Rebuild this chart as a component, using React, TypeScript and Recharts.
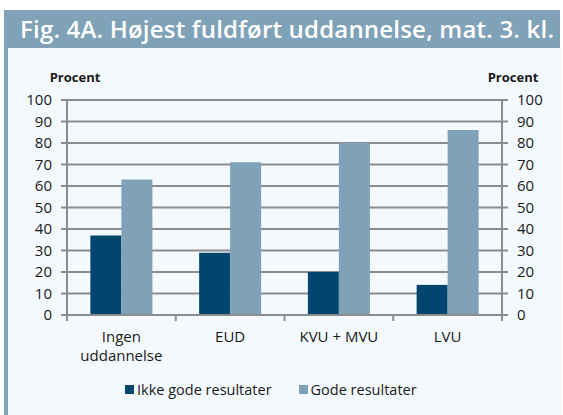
import { Bar, BarChart, CartesianGrid, XAxis, YAxis } from "recharts"

const categories = ["Ingen\nuddannelse", "EUD", "KVU + MVU", "LVU"]
const ikkeGode = [37, 29, 20, 14]
const gode = [63, 71, 80, 86]
const yTicks = [0, 10, 20, 30, 40, 50, 60, 70, 80, 90, 100]
const seriesNames = ["Ikke gode resultater", "Gode resultater"]

const data = categories.map((name, i) => ({ name, ikke: ikkeGode[i], gode: gode[i] }))

const DARK = "#00466e"
const LIGHT = "#7fa2b8"
const GRID = "#8c8c8c"
const FONT = "'Open Sans', sans-serif"

// category label plus a tick mark at the band edges (like the original)
function CategoryTick(props: any) {
  const { x, y, payload, index } = props
  const half = payload.offset || 0
  const lines = String(payload.value).split("\n")
  return (
    <g>
      <line x1={x - half} x2={x - half} y1={y} y2={y + 6} stroke={GRID} strokeWidth={2} />
      {index === categories.length - 1 && (
        <line x1={x + half} x2={x + half} y1={y} y2={y + 6} stroke={GRID} strokeWidth={2} />
      )}
      <text x={x} y={y} textAnchor="middle" fill="#1a1a1a" fontSize={15} fontFamily={FONT}>
        {lines.map((l, i) => (
          <tspan key={i} x={x} dy={i === 0 ? 27 : 19}>
            {l}
          </tspan>
        ))}
      </text>
    </g>
  )
}

export default function App() {
  return (
    <div style={{ position: "fixed", left: 0, top: 0, width: 563, height: 415, background: "#fff", fontFamily: FONT }}>
      <div style={{ position: "absolute", left: 4, top: 48, width: 558, height: 367, background: "#f4f9fe" }} />
      <div style={{ position: "absolute", left: 4, top: 48, width: 4, height: 367, background: LIGHT }} />
      <div
        style={{
          position: "absolute",
          left: 4,
          top: 10,
          width: 556,
          height: 38,
          background: LIGHT,
          color: "#fff",
          fontSize: 24,
          fontWeight: 600,
          letterSpacing: 0.2,
          lineHeight: "38px",
          paddingLeft: 16,
          boxSizing: "border-box",
          whiteSpace: "nowrap",
        }}
      >
        Fig. 4A. Højest fuldført uddannelse, mat. 3. kl.
      </div>
      <div style={{ position: "absolute", left: 75, top: 68, transform: "translateX(-50%)", fontSize: 13, fontWeight: 700, color: "#1a1a1a" }}>
        Procent
      </div>
      <div style={{ position: "absolute", left: 513, top: 68, transform: "translateX(-50%)", fontSize: 13, fontWeight: 700, color: "#1a1a1a" }}>
        Procent
      </div>
      <div style={{ position: "absolute", left: 0, top: 0 }}>
        <BarChart
          width={563}
          height={415}
          data={data}
          margin={{ top: 100, right: 0, bottom: 0, left: 0 }}
          barCategoryGap="21.5%"
          barGap={0}
        >
          <CartesianGrid vertical={false} stroke={GRID} strokeWidth={2} yAxisId="left" />
          <XAxis
            dataKey="name"
            height={100}
            stroke={GRID}
            strokeWidth={2}
            tickLine={false}
            tickSize={0}
            tickMargin={0}
            interval={0}
            tick={<CategoryTick />}
          />
          <YAxis
            yAxisId="left"
            domain={[0, 100]}
            ticks={yTicks}
            interval={0}
            width={67}
            tickSize={6}
            tickMargin={9}
            stroke={GRID}
            strokeWidth={2}
            tick={{ fill: "#1a1a1a", fontSize: 15, fontFamily: FONT }}
          />
          <YAxis
            yAxisId="right"
            orientation="right"
            domain={[0, 100]}
            ticks={yTicks}
            interval={0}
            width={61}
            tickSize={6}
            tickMargin={9}
            stroke={GRID}
            strokeWidth={2}
            tick={{ fill: "#1a1a1a", fontSize: 15, fontFamily: FONT, textAnchor: "start" }}
          />
          <Bar dataKey="ikke" name={seriesNames[0]} fill={DARK} yAxisId="left" isAnimationActive={false} />
          <Bar dataKey="gode" name={seriesNames[1]} fill={LIGHT} yAxisId="right" isAnimationActive={false} />
        </BarChart>
      </div>
      <div style={{ position: "absolute", left: 125, top: 380, display: "flex", alignItems: "center", fontSize: 14.5, color: "#1a1a1a" }}>
        {seriesNames.map((n, i) => (
          <div key={n} style={{ display: "flex", alignItems: "center", marginRight: 27 }}>
            <span style={{ width: 9, height: 9, background: i === 0 ? DARK : LIGHT, marginRight: 3 }} />
            <span>{n}</span>
          </div>
        ))}
      </div>
    </div>
  )
}
